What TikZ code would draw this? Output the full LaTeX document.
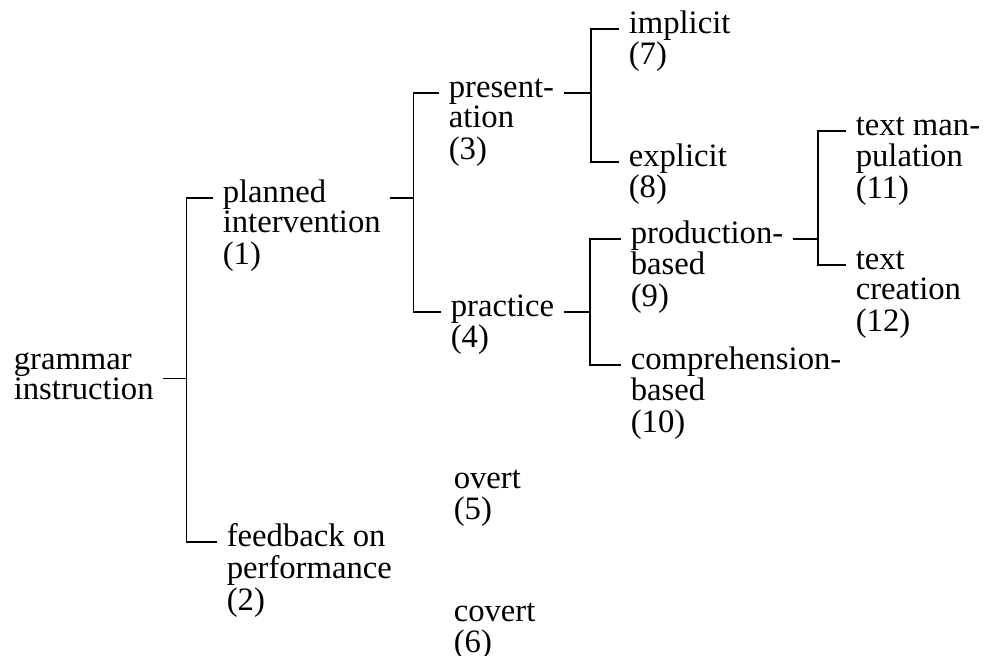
\documentclass[tikz,border=0pt]{standalone}
\usepackage{fontspec}
\setmainfont{Liberation Serif}
\newcommand{\tstack}[1]{\begin{tabular}[t]{@{}l@{}}#1\end{tabular}}
\begin{document}
\begin{tikzpicture}[x=.02cm, y=-.02cm, line width=.9pt,
	lbl/.style={anchor=mid west, inner xsep=.18cm, inner ysep=0pt, font=\fontsize{18.6}{17.4}\selectfont}]
	\useasboundingbox (0,0) rectangle (989,655);
	\node[lbl] (gram)   at (4,365)   {\tstack{grammar\\instruction}};
	\node[lbl] (plan)   at (213,198) {\tstack{planned\\intervention\\(1)}};
	\node[lbl] (feed)   at (217,542) {\tstack{feedback on\\performance\\(2)}};
	\node[lbl] (pres)   at (439,93)  {\tstack{present-\\ation\\(3)}};
	\node[lbl] (prac)   at (441,312) {\tstack{practice\\(4)}};
	\node[lbl] (overt)  at (444,484) {\tstack{overt\\(5)}};
	\node[lbl] (covert) at (444,617) {\tstack{covert\\(6)}};
	\node[lbl] (impl)   at (619,29)  {\tstack{implicit\\(7)}};
	\node[lbl] (expl)   at (619,162) {\tstack{explicit\\(8)}};
	\node[lbl] (prod)   at (621,239) {\tstack{production-\\based\\(9)}};
	\node[lbl] (comp)   at (621,365) {\tstack{comprehension-\\based\\(10)}};
	\node[lbl] (manip)  at (846,131) {\tstack{text man-\\pulation\\(11)}};
	\node[lbl] (creat)  at (846,265) {\tstack{text\\creation\\(12)}};
	\draw (gram.east)     -- ++(23,0) coordinate (j0);
	\draw (plan.mid west) -| (j0) |- (feed.mid west);
	\draw (plan.mid east) -- ++(23,0) coordinate (j1);
	\draw (pres.mid west) -| (j1) |- (prac.mid west);
	\draw (pres.mid east) -- ++(27,0) coordinate (j2);
	\draw (impl.mid west) -| (j2) |- (expl.mid west);
	\draw (prac.mid east) -- ++(26,0) coordinate (j3);
	\draw (prod.mid west) -| (j3) |- (comp.mid west);
	\draw (prod.mid east) -- ++(25,0) coordinate (j4);
	\draw (manip.mid west) -| (j4) |- (creat.mid west);
\end{tikzpicture}
\end{document}
